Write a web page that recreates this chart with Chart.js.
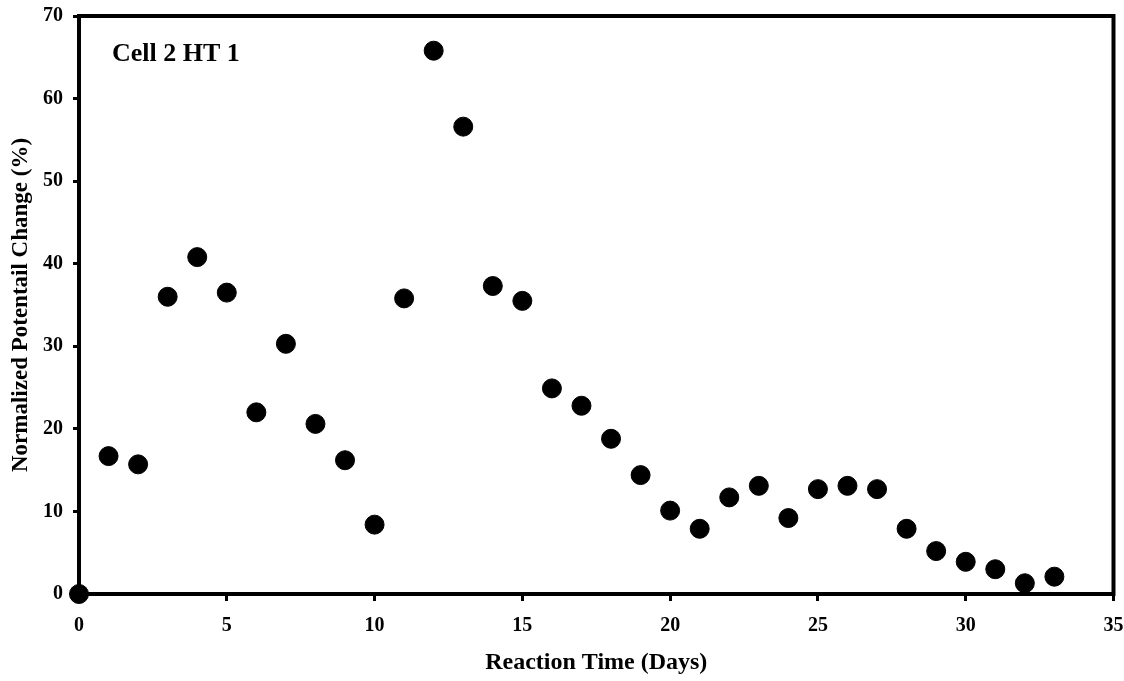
<!DOCTYPE html>
<html>
<head>
<meta charset="utf-8">
<script src="https://cdn.jsdelivr.net/npm/chart.js@4.4.1/dist/chart.umd.min.js"></script>
<style>
html,body{margin:0;padding:0;background:#fff;}
#wrap{width:1124px;height:681px;}
</style>
</head>
<body>
<div id="wrap"><canvas id="c" width="1124" height="681"></canvas></div>
<script>
const days = [0,1,2,3,4,5,6,7,8,9,10,11,12,13,14,15,16,17,18,19,20,21,22,23,24,25,26,27,28,29,30,31,32,33];
const potentialChange = [0,16.7,15.7,36.0,40.8,36.5,22.0,30.3,20.6,16.2,8.4,35.8,65.8,56.6,37.3,35.5,24.9,22.8,18.8,14.4,10.1,7.9,11.7,13.1,9.2,12.7,13.1,12.7,7.9,5.2,3.9,3.0,1.3,2.1];
const xTitle = 'Reaction Time (Days)';
const yTitle = 'Normalized Potentail Change (%)';
const label = 'Cell 2 HT 1';

const FONT = '"Liberation Serif", "Times New Roman", serif';

const framePlugin = {
  id: 'frame',
  afterDatasetsDraw(chart) {
    const {ctx, chartArea: a} = chart;
    ctx.save();
    ctx.strokeStyle = '#000';
    ctx.lineWidth = 4;
    ctx.strokeRect(a.left, a.top, a.right - a.left, a.bottom - a.top);
    ctx.fillStyle = '#000';
    ctx.font = 'bold 26px ' + FONT;
    ctx.textBaseline = 'middle';
    ctx.textAlign = 'left';
    ctx.fillText(label, a.left + 33, a.top + 38);
    ctx.restore();
  }
};

new Chart(document.getElementById('c'), {
  type: 'scatter',
  data: {
    datasets: [{
      data: days.map((d, i) => ({x: d, y: potentialChange[i]})),
      backgroundColor: '#000',
      borderColor: '#000',
      pointRadius: 9.5,
      pointHoverRadius: 9.5,
      clip: false
    }]
  },
  options: {
    responsive: false,
    animation: false,
    layout: {padding: {top: 16, right: 8, left: 0, bottom: 0}},
    plugins: {legend: {display: false}, tooltip: {enabled: false}},
    scales: {
      x: {
        type: 'linear', min: 0, max: 35,
        ticks: {stepSize: 5, color: '#000', font: {family: FONT, weight: 'bold', size: 20}, padding: 13},
        grid: {drawOnChartArea: false, drawTicks: true, tickLength: 7, tickWidth: 3, tickColor: '#000'},
        border: {display: false},
        title: {display: true, text: xTitle, color: '#000', font: {family: FONT, weight: 'bold', size: 24}, padding: {top: 4}},
        afterFit(s) { s.height = 87; s.paddingRight = 0; s.paddingLeft = 0; }
      },
      y: {
        min: 0, max: 70,
        ticks: {stepSize: 10, color: '#000', font: {family: FONT, weight: 'bold', size: 20}, padding: 10},
        grid: {drawOnChartArea: false, drawTicks: true, tickLength: 6, tickWidth: 3, tickColor: '#000'},
        border: {display: false},
        title: {display: true, text: yTitle, color: '#000', font: {family: FONT, weight: 'bold', size: 23}, padding: {top: 7, bottom: 0}},
        afterFit(s) { s.width = 79; s.paddingTop = 0; s.paddingBottom = 0; }
      }
    }
  },
  plugins: [framePlugin]
});
</script>
</body>
</html>
